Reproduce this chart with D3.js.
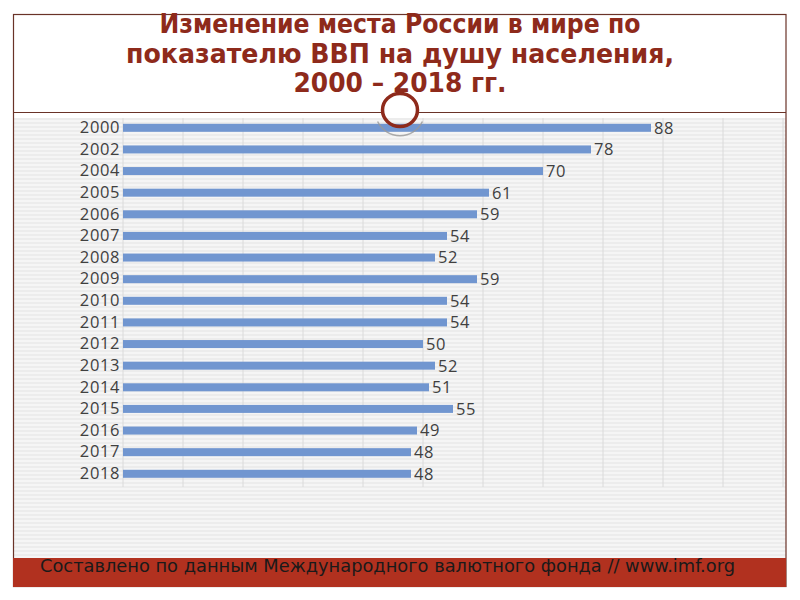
<!DOCTYPE html>
<html>
<head>
<meta charset="utf-8">
<script src="https://cdn.jsdelivr.net/npm/d3@7"></script>
<style>
  body { margin: 0; background: #fff; }
  svg { display: block; }
</style>
</head>
<body>
<svg id="svg" width="800" height="600"></svg>
<script>
const svg = d3.select('svg');

// data
const years = ['2000', '2002', '2004', '2005', '2006', '2007', '2008', '2009', '2010',
	'2011', '2012', '2013', '2014', '2015', '2016', '2017', '2018'];
const places = [88, 78, 70, 61, 59, 54, 52, 59, 54, 54, 50, 52, 51, 55, 49, 48, 48];
const titleLines = ['Изменение места России в мире по', 'показателю ВВП на душу населения,', '2000 – 2018 гг.'];
const source = 'Составлено по данным Международного валютного фонда // www.imf.org';

const frameColor = '#6a3328';
const titleColor = '#8e2a1b';

// striped background pattern
const defs = svg.append('defs');
const pat = defs.append('pattern')
	.attr('id', 'stripes')
	.attr('width', 8).attr('height', 4)
	.attr('patternUnits', 'userSpaceOnUse');
pat.append('rect').attr('width', 8).attr('height', 4).attr('fill', '#f5f5f5');
pat.append('rect').attr('y', 2).attr('width', 8).attr('height', 2).attr('fill', '#ececec');

svg.append('rect')
	.attr('x', 14).attr('y', 118)
	.attr('width', 772).attr('height', 440)
	.attr('fill', 'url(#stripes)');

// scales
const x = d3.scaleLinear().domain([0, 110]).range([123, 783]);
const y = d3.scaleBand().domain(years).range([117, 484.6]).paddingInner(0.63).paddingOuter(0.315);

// gridlines
svg.append('g')
	.selectAll('line')
	.data(x.ticks(11))
	.enter()
	.append('line')
	.attr('x1', (d) => x(d)).attr('x2', (d) => x(d))
	.attr('y1', 118).attr('y2', 487)
	.attr('stroke', '#dadada')
	.attr('stroke-width', 1);

// bars
svg.append('g')
	.selectAll('rect')
	.data(places)
	.enter()
	.append('rect')
	.attr('x', x(0))
	.attr('y', (d, i) => y(years[i]))
	.attr('width', (d) => x(d) - x(0))
	.attr('height', y.bandwidth())
	.attr('fill', '#7196d0');

// value labels
svg.append('g')
	.selectAll('text')
	.data(places)
	.enter()
	.append('text')
	.attr('x', (d) => x(d) + 3)
	.attr('y', (d, i) => y(years[i]) + y.bandwidth() / 2)
	.attr('dy', '0.36em')
	.attr('font-family', 'Open Sans, sans-serif')
	.attr('font-size', 16.5)
	.attr('letter-spacing', 0.5)
	.attr('fill', '#404040')
	.text((d) => d);

// category axis
const yAxis = d3.axisLeft(y).tickSize(0).tickPadding(3);
const ga = svg.append('g').attr('transform', `translate(${x(0)},0)`).call(yAxis);
ga.select('.domain').remove();
ga.selectAll('text')
	.attr('font-family', 'Open Sans, sans-serif')
	.attr('font-size', 16.5)
	.attr('letter-spacing', 0.6)
	.attr('fill', '#404040');

// frame
svg.append('rect')
	.attr('x', 13.5).attr('y', 14.5)
	.attr('width', 772.5).attr('height', 572)
	.attr('fill', 'none')
	.attr('stroke', frameColor)
	.attr('stroke-width', 1.2);

// divider line with gap for circle
svg.append('line').attr('x1', 13.5).attr('x2', 382).attr('y1', 112.5).attr('y2', 112.5)
	.attr('stroke', frameColor).attr('stroke-width', 1.2);
svg.append('line').attr('x1', 418).attr('x2', 786).attr('y1', 112.5).attr('y2', 112.5)
	.attr('stroke', frameColor).attr('stroke-width', 1.2);

// grey shadow arc under circle
const arc = d3.arc().innerRadius(24).outerRadius(25.5).startAngle(Math.PI * 0.64).endAngle(Math.PI * 1.36);
svg.append('path')
	.attr('transform', 'translate(400,111)')
	.attr('d', arc())
	.attr('fill', '#999999')
	.attr('opacity', 0.8);

// circle
svg.append('ellipse')
	.attr('cx', 400).attr('cy', 110)
	.attr('rx', 17.5).attr('ry', 16.5)
	.attr('fill', 'none')
	.attr('stroke', titleColor)
	.attr('stroke-width', 3.5);

// title
const titleY = [33, 63, 92];
const titleW = [481, 548, 213];
svg.append('g')
	.selectAll('text')
	.data(titleLines)
	.enter()
	.append('text')
	.attr('x', 400)
	.attr('y', (d, i) => titleY[i])
	.attr('text-anchor', 'middle')
	.attr('font-family', 'DejaVu Sans, sans-serif')
	.attr('font-weight', 'bold')
	.attr('font-size', 27)
	.attr('fill', titleColor)
	.attr('textLength', (d, i) => titleW[i])
	.attr('lengthAdjust', 'spacingAndGlyphs')
	.text((d) => d);

// footer
svg.append('rect')
	.attr('x', 13).attr('y', 558)
	.attr('width', 773).attr('height', 29)
	.attr('fill', '#b1311f');

svg.append('text')
	.attr('x', 40).attr('y', 572)
	.attr('font-family', 'DejaVu Sans, sans-serif')
	.attr('font-size', 17)
	.attr('fill', '#1a1a1a')
	.attr('textLength', 695)
	.attr('lengthAdjust', 'spacingAndGlyphs')
	.text(source);
</script>
</body>
</html>
